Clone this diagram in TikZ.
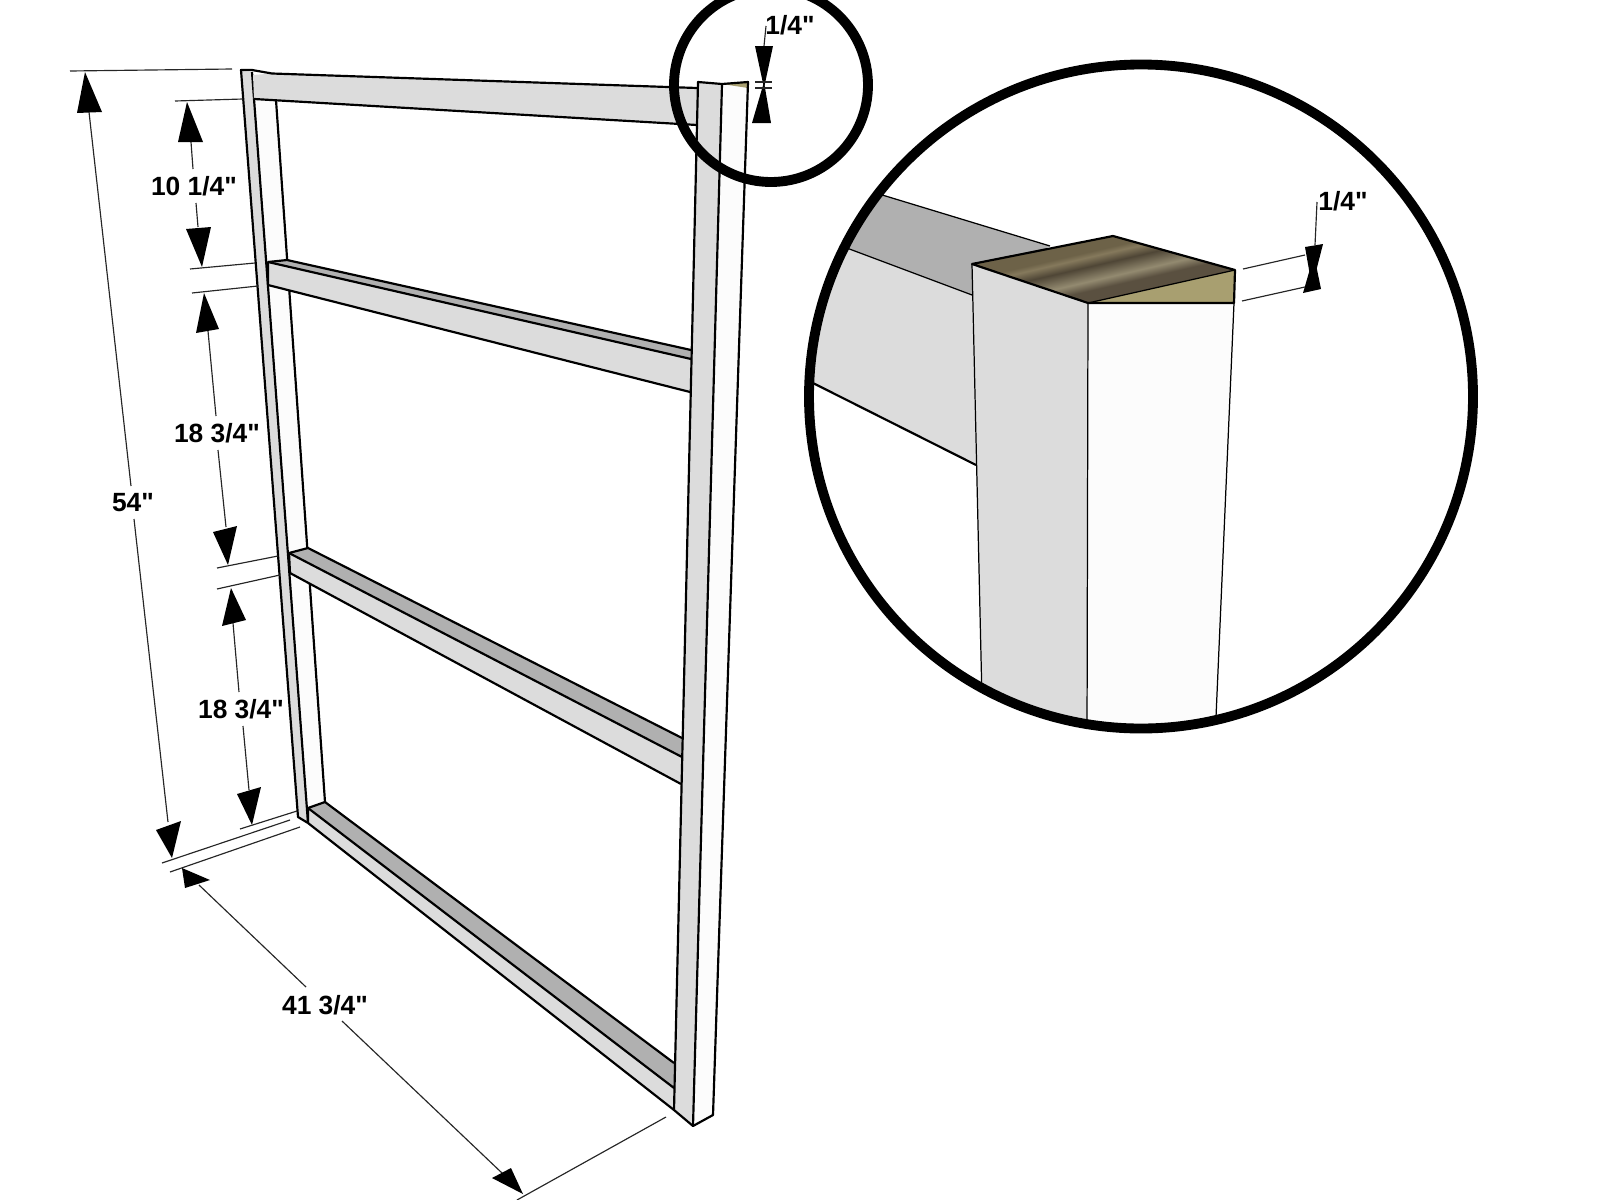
\documentclass[tikz,border=0pt]{standalone}
\usepackage{fontspec}
\setmainfont[Ligatures=TeXOff]{Liberation Sans}
\definecolor{facegrey}{HTML}{DCDCDC}
\definecolor{facewhite}{HTML}{FCFCFC}
\definecolor{facedark}{HTML}{B0B0B0}
\definecolor{woodtan}{HTML}{A89F70}
\definecolor{wooda}{HTML}{5A5040}
\definecolor{woodb}{HTML}{938A70}
\definecolor{woodc}{HTML}{4F4636}
\definecolor{woodd}{HTML}{6D6248}
\definecolor{woode}{HTML}{85795C}
\pgfdeclareverticalshading{woodgrain}{100bp}{color(0bp)=(wooda); color(41.5bp)=(wooda); color(46bp)=(woodb); color(53bp)=(woodc); color(57.5bp)=(woode); color(60bp)=(woodd); color(100bp)=(woodd)}
\tikzset{
  edgeline/.style={black, line width=0.62pt, line join=round},
  thinedge/.style={black, line width=0.35pt},
  dimline/.style={black!85, line width=0.33pt},
  ring/.style={black, line width=2.8pt},
  dimlabel/.style={font=\bfseries\fontsize{7.5}{9}\selectfont, inner sep=0pt}
}
\begin{document}
\begin{tikzpicture}[x=0.01cm,y=-0.01cm]
\useasboundingbox (0,0) rectangle (1600,1200);
\clip (0,0) rectangle (1600,1200);

% left post
\fill[facewhite] (252,72) -- (276,100) -- (325,802) -- (308,808) -- cycle;
\fill[facegrey] (241,71) -- (252,72) -- (308,823) -- (298,817) -- cycle;
\draw[edgeline] (252,70) -- (241,70) -- (298,817) -- (308,823);
\draw[edgeline] (252,72) -- (308,823);
\draw[edgeline] (276,100) -- (325,802);

% rails
\fill[facegrey] (253,75) -- (272,73.5) -- (697,88) -- (697,125) -- (254,99) -- cycle;
\draw[edgeline] (252,70) -- (272,73.5) -- (697,88);
\draw[edgeline] (254,99) -- (697,125);
\fill[facedark] (268,262) -- (287,260) -- (691,350) -- (691,359) -- cycle;
\fill[facegrey] (268,262) -- (691,359) -- (690,392) -- (268,285) -- cycle;
\draw[edgeline] (268,285) -- (268,262) -- (287,260) -- (691,350);
\draw[edgeline] (268,262) -- (691,359);
\draw[edgeline] (268,285) -- (690,392);
\fill[facedark] (289,553) -- (308,548) -- (682,738) -- (682,757) -- cycle;
\fill[facegrey] (289,553) -- (682,757) -- (681,784) -- (290,573) -- cycle;
\draw[edgeline] (290,573) -- (289,553) -- (308,548) -- (682,738);
\draw[edgeline] (289,553) -- (682,757);
\draw[edgeline] (290,573) -- (681,784);
\fill[facedark] (308,808) -- (325,802) -- (674,1063) -- (674,1088) -- cycle;
\fill[facegrey] (308,808) -- (674,1088) -- (674,1110) -- (308,823) -- cycle;
\draw[edgeline] (308,823) -- (308,808) -- (325,802) -- (674,1063);
\draw[edgeline] (308,808) -- (674,1088);
\draw[edgeline] (308,823) -- (674,1110);

% right post
\fill[facegrey] (698,82) -- (722,84) -- (693,1126) -- (674,1110) -- cycle;
\fill[facewhite] (722,84) -- (748,88) -- (713,1115) -- (693,1126) -- cycle;
\fill[woodtan] (722,84) -- (748,82) -- (748,88) -- cycle;
\draw[edgeline] (722,84) -- (698,82) -- (674,1110) -- (693,1126) -- (713,1115) -- (748,82) -- cycle;
\draw[edgeline] (722,84) -- (693,1126);

% small ring
\draw[ring] (771,85) circle (97);

% small 1/4
\node[dimlabel] (markSmall) at (790,25) {1/4"};
\draw[dimline] (766,26) -- (764,46);
\fill (755,46) -- (773,46) -- (764,88) -- cycle;
\fill (752,123) -- (771,123) -- (764,82) -- cycle;
\draw[dimline] (755,82) -- (772,82);
\draw[dimline] (755,88) -- (772,88);

% 54
\node[dimlabel] (markTall) at (133,503) {54"};
\draw[dimline] (70,71) -- (232,69);
\fill (77,113) -- (102,112) -- (85,72) -- cycle;
\draw[dimline] (89,112) -- (131,486);
\draw[dimline] (134,519) -- (168,822);
\fill (156,830) -- (181,821) -- (172,858) -- cycle;

% 10 1/4
\node[dimlabel] (markTop) at (194,186) {10 1/4"};
\draw[dimline] (175,101) -- (243,99);
\fill (178,142) -- (203,142) -- (187,102) -- cycle;
\draw[dimline] (191,142) -- (193,169);
\draw[dimline] (196,203) -- (198,227);
\fill (186,229) -- (211,227) -- (202,267) -- cycle;
\draw[dimline] (190,269) -- (255,263);
\draw[dimline] (192,293) -- (258,286);

% 18 3/4 upper
\node[dimlabel] (markUpper) at (217,433) {18 3/4"};
\fill (196,333) -- (219,329) -- (204,293) -- cycle;
\draw[dimline] (208,331) -- (216,416);
\draw[dimline] (218,450) -- (226,527);
\fill (213,532) -- (237,526) -- (228,565) -- cycle;
\draw[dimline] (217,568) -- (278,556);
\draw[dimline] (217,589) -- (280,575);

% 18 3/4 lower
\node[dimlabel] (markLower) at (241,709) {18 3/4"};
\fill (222,626) -- (246,620) -- (231,588) -- cycle;
\draw[dimline] (233,623) -- (239,692);
\draw[dimline] (243,726) -- (249,790);
\fill (237,794) -- (261,787) -- (252,825) -- cycle;
\draw[dimline] (240,829) -- (297,811);

% 41 3/4
\node[dimlabel] (markWide) at (325,1005) {41 3/4"};
\draw[dimline] (162,863) -- (290,820);
\draw[dimline] (170,872) -- (300,827);
\fill (185,888) -- (210,880) -- (182,868) -- cycle;
\draw[dimline] (199,885) -- (306,987);
\draw[dimline] (342,1021) -- (502,1173);
\fill (492,1178) -- (511,1168) -- (523,1194) -- cycle;
\draw[dimline] (517,1200) -- (666,1117);

% inset
\begin{scope}
\clip (1141,396.5) circle (332);
\fill[facedark] (800,170) -- (1050,246) -- (972,295) -- (800,230.5) -- cycle;
\fill[facegrey] (800,230.5) -- (972,295) -- (976,465) -- (800,376.5) -- cycle;
\draw[thinedge] (800,170) -- (1050,246);
\draw[thinedge] (800,230.5) -- (972,295);
\draw[edgeline] (800,376.5) -- (976,465);
\fill[facegrey] (972,264) -- (1088,303) -- (1087,740) -- (982,700) -- cycle;
\fill[facewhite] (1088,303) -- (1234,303) -- (1215,740) -- (1087,740) -- cycle;
\draw[thinedge] (972,264) -- (982,700);
\draw[thinedge] (1088,303) -- (1087,740);
\draw[thinedge] (1234,303) -- (1215,740);
\end{scope}
\shade[shading=woodgrain, shading angle=13] (972,264) -- (1113,236) -- (1235,270) -- (1088,303) -- cycle;
\fill[woodtan] (1088,303) -- (1235,270) -- (1234,303) -- cycle;
\draw[edgeline] (1088,303) -- (972,264) -- (1113,236) -- (1235,270) -- (1234,303) -- cycle;
\draw[thinedge] (1088,303) -- (1235,270);
\draw[ring] (1141,396.5) circle (332);

% inset 1/4
\node[dimlabel] (markInset) at (1343,201) {1/4"};
\draw[dimline] (1317,202) -- (1315,245);
\fill (1305,247) -- (1323,244) -- (1312,287) -- cycle;
\fill (1303,293) -- (1321,289) -- (1314,255) -- cycle;
\draw[dimline] (1243,269) -- (1305,255);
\draw[dimline] (1242,301) -- (1305,287);
\end{tikzpicture}
\end{document}
